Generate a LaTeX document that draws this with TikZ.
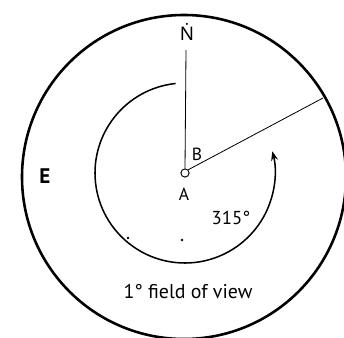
\documentclass[tikz,border=0pt]{standalone}
\usepackage{fontspec}
\setmainfont{PT Sans}
\newfontfamily\notosans{Noto Sans}
\usetikzlibrary{arrows.meta}
\begin{document}
\begin{tikzpicture}[x=0.03cm,y=0.03cm]
  \useasboundingbox (0,0) rectangle (344,337);
  \clip (0,0) rectangle (344,337);
  % outer field of view
  \draw[line width=2.2pt] (184,160) circle (162);
  \node[circle, draw, inner sep=0pt, minimum size=7pt, line width=0.8pt] (pA) at (185,164) {};
  \coordinate (topN) at (186,287);
  \coordinate (rim) at (323,239);
  \draw[line width=0.7pt] (pA.north) -- (topN);
  \draw[line width=0.7pt] (pA.north east) -- (rim);
  % 315 degree sweep
  \draw[line width=1.3pt, -{Stealth[length=8pt,width=6pt]}] (pA) ++(96:90) arc (96:374:90);
  \fill (128,99) circle (1.4);
  \fill (182,97) circle (1.4);
  \node[font=\notosans\fontsize{16}{19}\selectfont] (labN) at (187,305) {Ṅ};
  \node[font=\fontsize{18}{21}\selectfont\bfseries] (labE) at (45,161) {E};
  \node[font=\fontsize{15}{18}\selectfont] (labB) at (197,183) {B};
  \node[font=\fontsize{15}{18}\selectfont] (labA) at (184,143) {A};
  \node[font=\fontsize{16}{19}\selectfont] (labdeg) at (231,119) {315°};
  \node[font=\fontsize{17}{20}\selectfont] (labfov) at (188,45) {1° field of view};
\end{tikzpicture}
\end{document}
